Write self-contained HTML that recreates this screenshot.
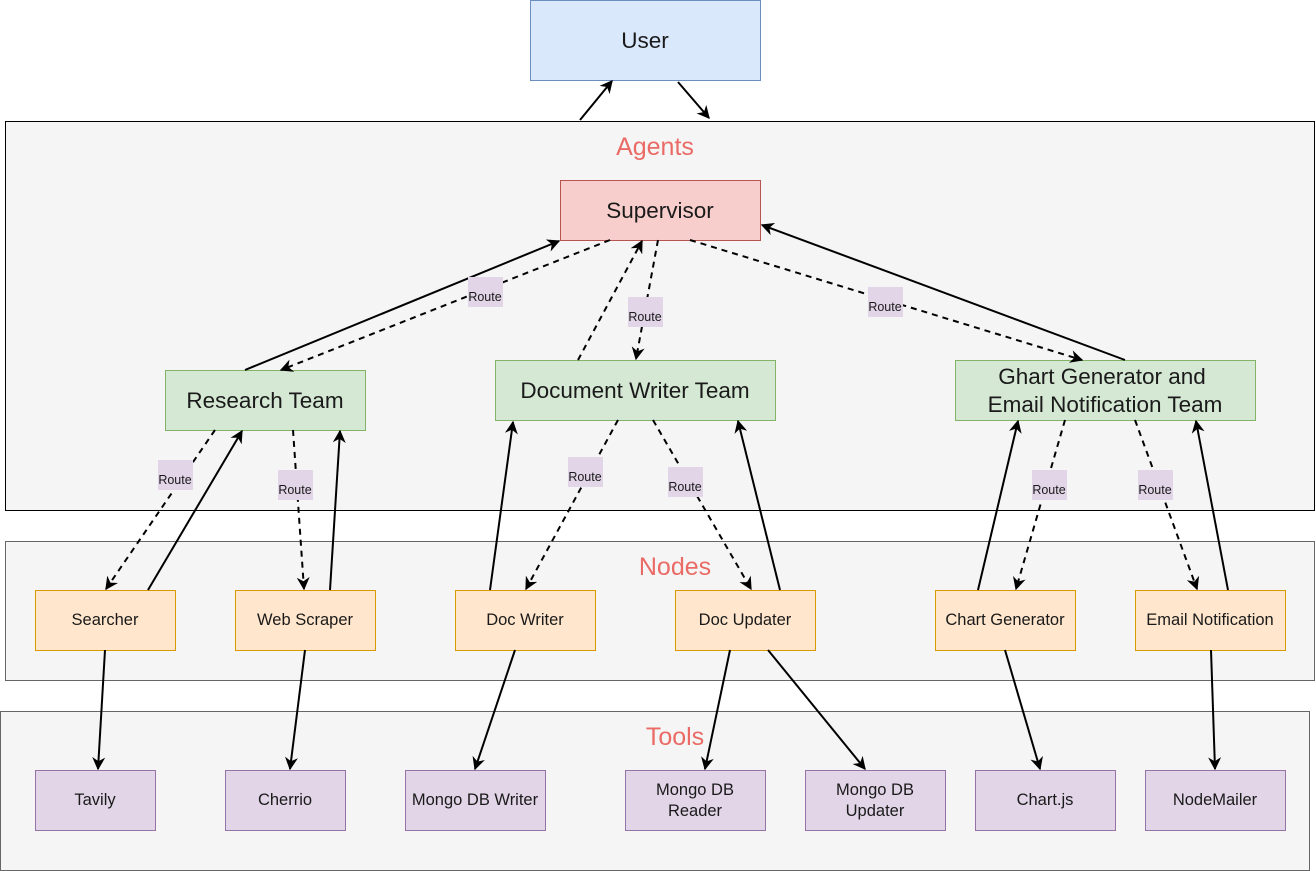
<!DOCTYPE html>
<html><head><meta charset="utf-8"><style>
html,body{margin:0;padding:0;background:#fff}
svg{display:block}
text{font-family:"Liberation Sans",Arial,sans-serif;fill:#1a1a1a}
</style></head><body>
<svg width="1316" height="871" viewBox="0 0 1316 871" xmlns="http://www.w3.org/2000/svg">
<defs>
<marker id="a" viewBox="0 0 10 10" refX="9" refY="5" markerWidth="13" markerHeight="13" markerUnits="userSpaceOnUse" orient="auto">
<path d="M0,0 L10,5 L0,10 L3,5 Z" fill="#000"/>
</marker>
</defs>
<rect x="5.5" y="121.5" width="1309" height="389" fill="#f5f5f5" stroke="#000"/>
<rect x="5.5" y="541.5" width="1309" height="139" fill="#f5f5f5" stroke="#666"/>
<rect x="0.5" y="711.5" width="1309" height="159" fill="#f5f5f5" stroke="#666"/>
<text x="655" y="155" font-size="25" text-anchor="middle" style="fill:#ea6b66">Agents</text>
<text x="675" y="575" font-size="25" text-anchor="middle" style="fill:#ea6b66">Nodes</text>
<text x="675" y="745" font-size="25" text-anchor="middle" style="fill:#ea6b66">Tools</text>

<rect x="530.5" y="0.5" width="230" height="80" fill="#dae8fc" stroke="#6c8ebf"/>
<text x="645" y="48" font-size="22.5" text-anchor="middle">User</text>
<rect x="560.5" y="180.5" width="200" height="60" fill="#f8cecc" stroke="#b85450"/>
<text x="660" y="218" font-size="22.5" text-anchor="middle">Supervisor</text>
<g fill="#d5e8d4" stroke="#82b366">
<rect x="165.5" y="370.5" width="200" height="60"/>
<rect x="495.5" y="360.5" width="280" height="60"/>
<rect x="955.5" y="360.5" width="300" height="60"/>
</g>
<g font-size="22.5" text-anchor="middle">
<text x="265" y="408">Research Team</text>
<text x="635" y="398">Document Writer Team</text>
<text x="1102" y="384">Ghart Generator and</text>
<text x="1105" y="412">Email Notification Team</text>
</g>

<g fill="#ffe6cc" stroke="#d79b00">
<rect x="35.5" y="590.5" width="140" height="60"/>
<rect x="235.5" y="590.5" width="140" height="60"/>
<rect x="455.5" y="590.5" width="140" height="60"/>
<rect x="675.5" y="590.5" width="140" height="60"/>
<rect x="935.5" y="590.5" width="140" height="60"/>
<rect x="1135.5" y="590.5" width="150" height="60"/>
</g>
<g font-size="16.5" text-anchor="middle">
<text x="105" y="625">Searcher</text>
<text x="305" y="625">Web Scraper</text>
<text x="525" y="625">Doc Writer</text>
<text x="745" y="625">Doc Updater</text>
<text x="1005" y="625">Chart Generator</text>
<text x="1210" y="625">Email Notification</text>
</g>
<g fill="#e1d5e7" stroke="#9673a6">
<rect x="35.5" y="770.5" width="120" height="60"/>
<rect x="225.5" y="770.5" width="120" height="60"/>
<rect x="405.5" y="770.5" width="140" height="60"/>
<rect x="625.5" y="770.5" width="140" height="60"/>
<rect x="805.5" y="770.5" width="140" height="60"/>
<rect x="975.5" y="770.5" width="140" height="60"/>
<rect x="1145.5" y="770.5" width="140" height="60"/>
</g>
<g font-size="16.5" text-anchor="middle">
<text x="95" y="805">Tavily</text>
<text x="285" y="805">Cherrio</text>
<text x="475" y="805">Mongo DB Writer</text>
<text x="695" y="795">Mongo DB</text>
<text x="695" y="816">Reader</text>
<text x="875" y="795">Mongo DB</text>
<text x="875" y="816">Updater</text>
<text x="1045" y="805">Chart.js</text>
<text x="1215" y="805">NodeMailer</text>
</g>

<g stroke="#000" stroke-width="2" fill="none" marker-end="url(#a)">
<line x1="580" y1="120" x2="612" y2="81"/>
<line x1="678" y1="82" x2="709" y2="118"/>
<line x1="245" y1="370" x2="559" y2="241"/>
<line x1="1125" y1="360" x2="762" y2="225"/>
<line x1="148" y1="590" x2="242" y2="431"/>
<line x1="330" y1="590" x2="340" y2="431"/>
<line x1="490" y1="590" x2="513" y2="422"/>
<line x1="780" y1="590" x2="738" y2="421"/>
<line x1="978" y1="590" x2="1018" y2="421"/>
<line x1="1228" y1="590" x2="1196" y2="421"/>
<line x1="105" y1="650" x2="98" y2="769"/>
<line x1="305" y1="650" x2="290" y2="769"/>
<line x1="515" y1="650" x2="475" y2="769"/>
<line x1="730" y1="650" x2="705" y2="769"/>
<line x1="768" y1="650" x2="865" y2="769"/>
<line x1="1005" y1="650" x2="1040" y2="769"/>
<line x1="1211" y1="650" x2="1215" y2="769"/>
</g>
<g stroke="#000" stroke-width="2" fill="none" stroke-dasharray="6 5" marker-end="url(#a)">
<line x1="610" y1="240" x2="281" y2="370"/>
<line x1="578" y1="360" x2="642" y2="241"/>
<line x1="658" y1="240" x2="636" y2="359"/>
<line x1="690" y1="240" x2="1082" y2="360"/>
<line x1="215" y1="430" x2="106" y2="589"/>
<line x1="293" y1="430" x2="304" y2="589"/>
<line x1="618" y1="420" x2="526" y2="589"/>
<line x1="653" y1="420" x2="751" y2="589"/>
<line x1="1065" y1="420" x2="1016" y2="589"/>
<line x1="1135" y1="420" x2="1197" y2="589"/>
</g>
<g fill="#e1d5e7">
<rect x="468" y="277" width="35" height="30"/>
<rect x="628" y="297" width="35" height="30"/>
<rect x="868" y="287" width="35" height="30"/>
<rect x="158" y="460" width="35" height="30"/>
<rect x="278" y="470" width="35" height="30"/>
<rect x="568" y="457" width="35" height="30"/>
<rect x="668" y="467" width="35" height="30"/>
<rect x="1032" y="470" width="35" height="30"/>
<rect x="1138" y="470" width="35" height="30"/>
</g>
<g font-size="12.5" text-anchor="middle">
<text x="485" y="301">Route</text>
<text x="645" y="321">Route</text>
<text x="885" y="311">Route</text>
<text x="175" y="484">Route</text>
<text x="295" y="494">Route</text>
<text x="585" y="481">Route</text>
<text x="685" y="491">Route</text>
<text x="1049" y="494">Route</text>
<text x="1155" y="494">Route</text>
</g>
</svg>
</body></html>
